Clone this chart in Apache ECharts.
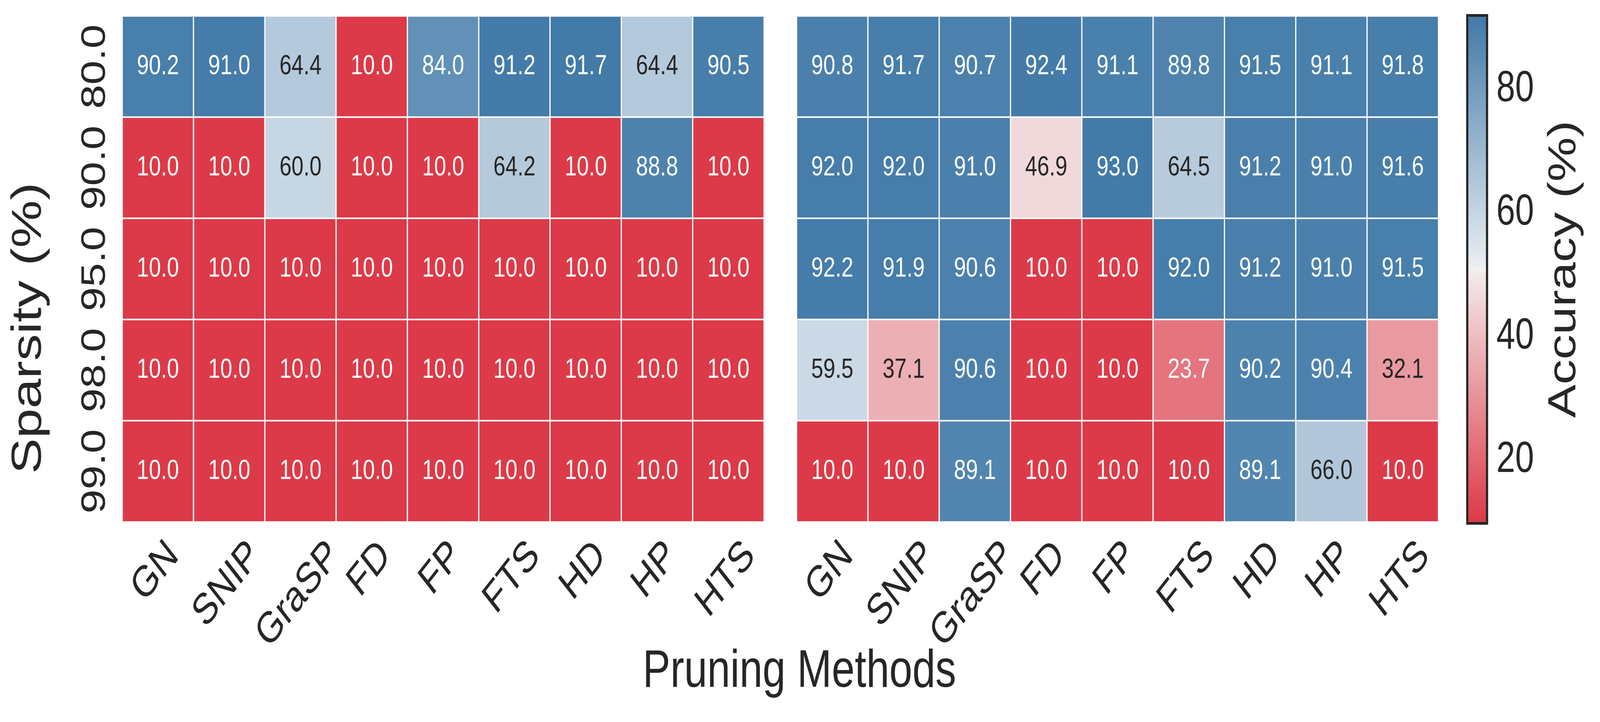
<!DOCTYPE html>
<html><head><meta charset="utf-8">
<script src="https://cdn.jsdelivr.net/npm/echarts@6/dist/echarts.min.js"></script>
<style>html,body{margin:0;padding:0;background:#fff;overflow:hidden}#c{width:5248px;height:1848px;transform-origin:0 0}</style>
</head><body><div id="c"></div>
<script>
const methods = ['GN', 'SNIP', 'GraSP', 'FD', 'FP', 'FTS', 'HD', 'HP', 'HTS'];
const sparsity = ['80.0', '90.0', '95.0', '98.0', '99.0'];
const leftValues = [
  [90.2, 91.0, 64.4, 10.0, 84.0, 91.2, 91.7, 64.4, 90.5],
  [10.0, 10.0, 60.0, 10.0, 10.0, 64.2, 10.0, 88.8, 10.0],
  [10.0, 10.0, 10.0, 10.0, 10.0, 10.0, 10.0, 10.0, 10.0],
  [10.0, 10.0, 10.0, 10.0, 10.0, 10.0, 10.0, 10.0, 10.0],
  [10.0, 10.0, 10.0, 10.0, 10.0, 10.0, 10.0, 10.0, 10.0]
];
const rightValues = [
  [90.8, 91.7, 90.7, 92.4, 91.1, 89.8, 91.5, 91.1, 91.8],
  [92.0, 92.0, 91.0, 46.9, 93.0, 64.5, 91.2, 91.0, 91.6],
  [92.2, 91.9, 90.6, 10.0, 10.0, 92.0, 91.2, 91.0, 91.5],
  [59.5, 37.1, 90.6, 10.0, 10.0, 23.7, 90.2, 90.4, 32.1],
  [10.0, 10.0, 89.1, 10.0, 10.0, 10.0, 89.1, 66.0, 10.0]
];
const colorbarTicks = [20, 40, 60, 80];

const FONT = '"Liberation Sans", Arial, sans-serif';
const INK = '#262626';
const TICK_FS = 111;

// fit the 5248px-wide design into the actual window width
const container = document.getElementById('c');
const sx = Math.min(1, (window.innerWidth || 5248) / 5248);
const sy = Math.min(1, (window.innerHeight || 1848) / 1848);
if (sx < 1 || sy < 1) container.style.transform = 'scale(' + sx + ',' + sy + ')';

// diverging palette (red - light - blue)
const RED = [220, 58, 72], LRED = [244, 237, 237], MID = [242, 242, 242], LBLUE = [236, 240, 244], BLUE = [66, 122, 168];
function lerp(a, b, f) { return a.map((v, i) => v + (b[i] - v) * f); }
function cmap(t) {
  t = Math.max(0, Math.min(1, t));
  if (t < 0.5) return lerp(RED, LRED, t / 0.5);
  if (t === 0.5) return MID;
  return lerp(LBLUE, BLUE, (t - 0.5) / 0.5);
}
function toHex(c) { return '#' + c.map(v => Math.round(v).toString(16).padStart(2, '0')).join(''); }
const palette = [];
for (let i = 0; i <= 200; i++) palette.push(toHex(cmap(i / 200)));
function lum(c) {
  const l = c.map(v => { v /= 255; return v <= 0.03928 ? v / 12.92 : Math.pow((v + 0.055) / 1.055, 2.4); });
  return 0.2126 * l[0] + 0.7152 * l[1] + 0.0722 * l[2];
}
function textColor(v, mn, mx) { return lum(cmap((v - mn) / (mx - mn))) > 0.408 ? INK : '#ffffff'; }

function flat(arr) { return arr.flat(); }
const leftMin = Math.min(...flat(leftValues)), leftMax = Math.max(...flat(leftValues));
const rightMin = Math.min(...flat(rightValues)), rightMax = Math.max(...flat(rightValues));

function buildData(vals, mn, mx) {
  const out = [];
  vals.forEach((row, yi) => row.forEach((v, xi) => {
    out.push({ value: [xi, yi, v], label: { color: textColor(v, mn, mx) } });
  }));
  return out;
}

const grids = [
  { left: 401, top: 41, width: 2105, height: 1295, outerBoundsMode: 'none', containLabel: false },
  { left: 2613, top: 41, width: 2105, height: 1295, outerBoundsMode: 'none', containLabel: false },
  { left: 4816, top: 43, width: 58, height: 1293, outerBoundsMode: 'none', containLabel: false }
];

function xAxisFor(gi) {
  return {
    type: 'category', gridIndex: gi, data: methods, position: 'bottom',
    axisLine: { show: false }, axisTick: { show: false }, splitLine: { show: false },
    axisLabel: { show: false }
  };
}
function yAxisFor(gi, showLabel) {
  return {
    type: 'category', gridIndex: gi, data: sparsity, inverse: true,
    axisLine: { show: false }, axisTick: { show: false }, splitLine: { show: false },
    axisLabel: {
      show: showLabel, interval: 0, rotate: 90, align: 'center', verticalAlign: 'middle', margin: 88,
      fontSize: TICK_FS, fontFamily: FONT, color: INK
    }
  };
}

const seriesCommon = {
  type: 'heatmap',
  label: { show: true, fontSize: 71, fontFamily: FONT, formatter: p => p.value[2].toFixed(1) },
  itemStyle: { borderColor: '#ffffff', borderWidth: 4 },
  emphasis: { disabled: true }
};

const staticGraphics = [
  { type: 'rect', z: 100, silent: true, shape: { x: 4812.5, y: 39.5, width: 65, height: 1300 },
    style: { fill: null, stroke: INK, lineWidth: 7 } },
  { type: 'text', x: 2622, y: 1720, silent: true,
    style: { text: 'Pruning Methods', fontSize: 136, fontFamily: FONT, fill: INK, align: 'center', verticalAlign: 'middle' } },
  { type: 'text', x: 96, y: 840, rotation: Math.PI / 2, silent: true,
    style: { text: 'Sparsity (%)', fontSize: 137, fontFamily: FONT, fill: INK, align: 'center', verticalAlign: 'middle' } },
  { type: 'text', x: 5132, y: 689, rotation: Math.PI / 2, silent: true,
    style: { text: 'Accuracy (%)', fontSize: 128, fontFamily: FONT, fill: INK, align: 'center', verticalAlign: 'middle' } }
];

const option = {
  backgroundColor: '#ffffff',
  animation: false,
  grid: grids,
  xAxis: [xAxisFor(0), xAxisFor(1), { type: 'value', gridIndex: 2, show: false, min: 0, max: 1 }],
  yAxis: [
    yAxisFor(0, true), yAxisFor(1, false),
    {
      type: 'value', gridIndex: 2, position: 'right', min: leftMin, max: leftMax, interval: 10,
      axisLine: { show: false }, axisTick: { show: false }, splitLine: { show: false },
      axisLabel: {
        margin: 34, fontSize: TICK_FS, fontFamily: FONT, color: INK, showMaxLabel: true, showMinLabel: true,
        formatter: v => colorbarTicks.indexOf(Math.round(v)) >= 0 && Math.abs(v - Math.round(v)) < 1e-6 ? String(Math.round(v)) : ''
      }
    }
  ],
  visualMap: [
    {
      type: 'continuous', seriesIndex: 0, min: leftMin, max: leftMax, calculable: false,
      inRange: { color: palette }, left: 4816, top: 43, itemWidth: 58, itemHeight: 1293,
      padding: 0, text: null, orient: 'vertical', hoverLink: false, realtime: false
    },
    {
      type: 'continuous', seriesIndex: 1, min: rightMin, max: rightMax, show: false,
      inRange: { color: palette }
    }
  ],
  series: [
    Object.assign({}, seriesCommon, { xAxisIndex: 0, yAxisIndex: 0, data: buildData(leftValues, leftMin, leftMax) }),
    Object.assign({}, seriesCommon, { xAxisIndex: 1, yAxisIndex: 1, data: buildData(rightValues, rightMin, rightMax) }),
    { type: 'scatter', xAxisIndex: 2, yAxisIndex: 2, data: [], silent: true }
  ],
  graphic: staticGraphics
};

const chart = echarts.init(container, null, { renderer: 'canvas', width: 5248, height: 1848 });
chart.setOption(option);

// rotated x tick labels, positioned from the category axes (matplotlib-style centered rotation)
const mctx = document.createElement('canvas').getContext('2d');
mctx.font = TICK_FS + 'px ' + FONT;
const tickGraphics = [];
[0, 1].forEach(gi => {
  methods.forEach((m, i) => {
    const c4 = chart.convertToPixel({ gridIndex: gi }, [i, sparsity.length - 1]);
    const c3 = chart.convertToPixel({ gridIndex: gi }, [i, sparsity.length - 2]);
    const bottom = c4[1] + (c4[1] - c3[1]) / 2;
    const w = mctx.measureText(m).width;
    const h = 1.117 * TICK_FS;
    tickGraphics.push({
      type: 'text', silent: true, rotation: Math.PI / 4,
      x: c4[0] - 8, y: bottom + 25 + (w + h) * 0.3536,
      style: { text: m, fontSize: TICK_FS, fontFamily: FONT, fill: INK, align: 'center', verticalAlign: 'middle' }
    });
  });
});
chart.setOption({ graphic: staticGraphics.concat(tickGraphics) });
</script>
</body></html>
